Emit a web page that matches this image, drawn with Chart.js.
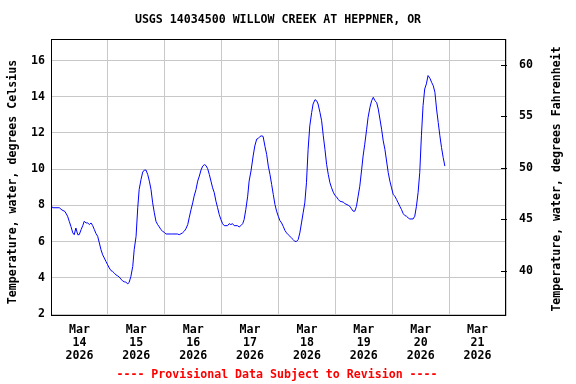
<!DOCTYPE html>
<html>
<head>
<meta charset="utf-8">
<script src="https://cdn.jsdelivr.net/npm/chart.js@4"></script>
<style>
  html, body { margin: 0; padding: 0; background: #fff; }
  #wrap { width: 576px; height: 384px; }
</style>
</head>
<body>
<div id="wrap"><canvas id="myChart" width="576" height="384"></canvas></div>
<script>
// hours since Mar 14 2026 00:00
const hours = [0, 0.7, 3.5, 4.6, 5.9, 7.0, 7.7, 8.4, 9.2, 9.8, 10.5, 11.3, 11.9, 12.7, 13.4, 14.0, 14.8, 15.5, 16.2, 16.9, 17.6, 18.3, 19.0, 19.7, 20.4, 21.1, 21.8, 22.5, 23.2, 23.9,
  24.6, 25.3, 26.0, 26.7, 27.4, 28.1, 28.8, 29.5, 30.2, 30.9, 31.6, 32.4, 33.0, 33.7, 34.5, 35.1, 35.9, 36.6, 37.2, 38.0, 38.7, 39.4, 40.1, 40.8, 41.5, 42.2, 42.9, 43.6, 44.3, 45.0,
  45.7, 46.4, 47.1, 47.8, 48.5, 51.0, 53.4, 54.1, 55.5, 56.2, 56.9, 57.7, 58.3, 59.1, 59.8, 60.4, 61.2, 61.9, 62.6, 63.3, 64.0, 64.7, 65.4, 66.1, 66.8, 67.5, 68.2, 68.9, 69.6, 70.3,
  71.0, 71.7, 72.4, 73.1, 74.5, 75.2, 75.9, 76.6, 77.3, 78.7, 79.4, 80.1, 80.9, 81.5, 82.2, 83.0, 83.6, 84.4, 85.3, 86.0, 86.8, 87.4, 88.2, 88.9, 89.5, 90.3, 91.0, 91.7, 92.4, 93.1,
  93.8, 94.5, 95.2, 95.9, 96.6, 97.3, 98.0, 98.7, 99.4, 100.1, 100.8, 101.5, 102.2, 102.9, 103.6, 104.3, 105.0, 105.7, 106.4, 107.1, 107.8, 108.5, 109.2, 110.0, 110.6, 111.4, 112.1, 112.7, 113.5, 114.2,
  114.9, 115.6, 116.3, 117.0, 117.7, 118.4, 119.1, 119.8, 120.5, 121.2, 121.9, 123.3, 124.0, 125.4, 126.1, 126.8, 127.5, 128.2, 128.9, 129.6, 130.3, 131.1, 131.7, 132.4, 133.2, 133.8, 134.6, 135.3, 136.0, 136.7,
  137.4, 138.1, 138.8, 139.5, 140.2, 140.9, 141.6, 142.3, 143.0, 143.7, 144.4, 145.1, 145.8, 146.5, 147.2, 147.9, 148.6, 149.3, 150.0, 150.7, 151.4, 152.8, 153.5, 154.2, 154.9, 155.6, 156.3, 157.0, 157.7, 158.4,
  159.1, 159.9, 160.6, 161.3, 162.0, 162.7, 163.4, 164.1, 164.8, 165.5, 166.2];

// water temperature, deg C
const tempC = [7.99, 7.87, 7.87, 7.75, 7.66, 7.40, 7.12, 6.84, 6.48, 6.38, 6.75, 6.38, 6.38, 6.66, 6.88, 7.12, 7.03, 7.03, 6.94, 7.03, 6.88, 6.66, 6.44, 6.29, 5.92, 5.55, 5.27, 5.09, 4.90, 4.72,
  4.54, 4.40, 4.35, 4.26, 4.16, 4.11, 4.04, 3.93, 3.83, 3.78, 3.76, 3.66, 3.76, 4.07, 4.63, 5.55, 6.29, 7.87, 8.88, 9.44, 9.84, 9.95, 9.95, 9.71, 9.34, 8.88, 8.14, 7.59, 7.12, 6.94,
  6.81, 6.66, 6.57, 6.51, 6.42, 6.42, 6.42, 6.38, 6.48, 6.57, 6.70, 6.94, 7.31, 7.77, 8.14, 8.51, 8.88, 9.34, 9.62, 9.95, 10.17, 10.25, 10.20, 10.03, 9.71, 9.34, 8.97, 8.70, 8.23, 7.87,
  7.49, 7.22, 6.99, 6.88, 6.88, 6.99, 6.94, 6.99, 6.88, 6.88, 6.81, 6.88, 6.99, 7.22, 7.77, 8.51, 9.34, 9.90, 10.73, 11.28, 11.66, 11.69, 11.81, 11.84, 11.81, 11.25, 10.82, 10.17, 9.71, 9.16,
  8.60, 8.05, 7.68, 7.40, 7.16, 7.03, 6.84, 6.62, 6.48, 6.38, 6.29, 6.20, 6.11, 6.01, 6.01, 6.11, 6.48, 7.03, 7.59, 8.14, 9.25, 11.10, 12.39, 13.13, 13.60, 13.84, 13.78, 13.60, 13.13, 12.67,
  11.84, 11.10, 10.27, 9.71, 9.25, 8.97, 8.73, 8.55, 8.47, 8.33, 8.23, 8.18, 8.10, 8.01, 7.95, 7.81, 7.68, 7.68, 7.95, 8.51, 9.06, 9.99, 10.73, 11.38, 12.21, 12.86, 13.42, 13.78, 13.97, 13.78,
  13.69, 13.32, 12.77, 12.21, 11.56, 11.10, 10.45, 9.81, 9.34, 8.97, 8.60, 8.51, 8.33, 8.14, 7.95, 7.77, 7.55, 7.44, 7.40, 7.31, 7.25, 7.25, 7.40, 7.95, 8.70, 9.81, 11.84, 13.51, 14.43, 14.71,
  15.17, 15.02, 14.80, 14.61, 14.25, 13.32, 12.58, 11.84, 11.19, 10.64, 10.17];

const dayLabels = ['14', '15', '16', '17', '18', '19', '20', '21'];
const monthLabel = 'Mar';
const yearLabel = '2026';
const celsiusTicks = [2, 4, 6, 8, 10, 12, 14, 16];
const fahrenheitTicks = [40, 45, 50, 55, 60];

const titleText = 'USGS 14034500 WILLOW CREEK AT HEPPNER, OR';
const leftTitle = 'Temperature, water, degrees Celsius';
const rightTitle = 'Temperature, water, degrees Fahrenheit';
const footerText = '---- Provisional Data Subject to Revision ----';

const FONT = 'bold 11.6px "DejaVu Sans Mono"';
const GRID = '#c8c8c8';

const points = hours.map((h, i) => ({ x: h, y: tempC[i] }));

// frame, inner ticks on the right axis and all the free text
const decorPlugin = {
    id: 'decor',
    afterDatasetsDraw(chart) {
        const ctx = chart.ctx;
        const a = chart.chartArea;
        ctx.save();
        ctx.strokeStyle = '#000';
        ctx.lineWidth = 1;
        ctx.strokeRect(a.left + 0.5, a.top + 0.5, a.right - a.left - 1, a.bottom - a.top - 1);
        const y2 = chart.scales.y2;
        fahrenheitTicks.forEach(v => {
            const py = Math.round(y2.getPixelForValue(v)) + 0.5;
            ctx.beginPath();
            ctx.moveTo(a.right - 5, py);
            ctx.lineTo(a.right + 1, py);
            ctx.stroke();
        });
        ctx.restore();
    },
    afterDraw(chart) {
        const ctx = chart.ctx;
        ctx.save();
        ctx.font = FONT;
        ctx.fillStyle = '#000';
        ctx.textAlign = 'center';
        ctx.textBaseline = 'middle';
        ctx.fillText(titleText, 278, 20);

        ctx.save();
        ctx.translate(13, 182);
        ctx.rotate(-Math.PI / 2);
        ctx.fillText(leftTitle, 0, 0);
        ctx.restore();

        ctx.save();
        ctx.translate(557, 179);
        ctx.rotate(-Math.PI / 2);
        ctx.fillText(rightTitle, 0, 0);
        ctx.restore();

        ctx.fillStyle = '#ff0000';
        ctx.fillText(footerText, 277, 375);
        ctx.restore();
    }
};

const ctx = document.getElementById('myChart').getContext('2d');
new Chart(ctx, {
    type: 'line',
    data: {
        datasets: [{
            label: 'Temperature',
            data: points,
            borderColor: '#0000ff',
            borderWidth: 1,
            pointRadius: 0,
            tension: 0,
            fill: false
        }]
    },
    options: {
        responsive: false,
        animation: false,
        events: [],
        layout: { padding: { top: 39, left: 0, right: 0, bottom: 0 } },
        plugins: {
            legend: { display: false },
            tooltip: { enabled: false },
            title: { display: false }
        },
        scales: {
            x: {
                type: 'linear',
                min: 0,
                max: 192,
                afterBuildTicks: s => {
                    const t = [];
                    for (let v = 0; v <= 192; v += 12) t.push({ value: v });
                    s.ticks = t;
                },
                afterFit: s => { s.height = 68; },
                grid: {
                    color: c => (c.tick && c.tick.value % 24 === 0) ? GRID : 'rgba(0,0,0,0)',
                    drawTicks: false
                },
                border: { display: false },
                ticks: {
                    autoSkip: false,
                    maxRotation: 0,
                    padding: 7.5,
                    color: '#000',
                    font: { family: 'DejaVu Sans Mono', size: 11.6, weight: 'bold', lineHeight: '13px' },
                    callback: v => (v % 24 === 12) ? [monthLabel, dayLabels[Math.floor(v / 24)], yearLabel] : ''
                }
            },
            y: {
                position: 'left',
                min: 1.89,
                max: 17.19,
                afterBuildTicks: s => { s.ticks = celsiusTicks.map(v => ({ value: v })); },
                afterFit: s => { s.width = 51; },
                grid: { color: GRID, drawTicks: false },
                border: { display: false },
                ticks: {
                    padding: 6,
                    color: '#000',
                    font: { family: 'DejaVu Sans Mono', size: 11.6, weight: 'bold' }
                }
            },
            y2: {
                position: 'right',
                min: 35.6,
                max: 62.53,
                afterBuildTicks: s => { s.ticks = fahrenheitTicks.map(v => ({ value: v })); },
                afterFit: s => { s.width = 70; },
                grid: { drawOnChartArea: false, drawTicks: false },
                border: { display: false },
                ticks: {
                    padding: 13,
                    color: '#000',
                    font: { family: 'DejaVu Sans Mono', size: 11.6, weight: 'bold' }
                }
            }
        }
    },
    plugins: [decorPlugin]
});
</script>
</body>
</html>
